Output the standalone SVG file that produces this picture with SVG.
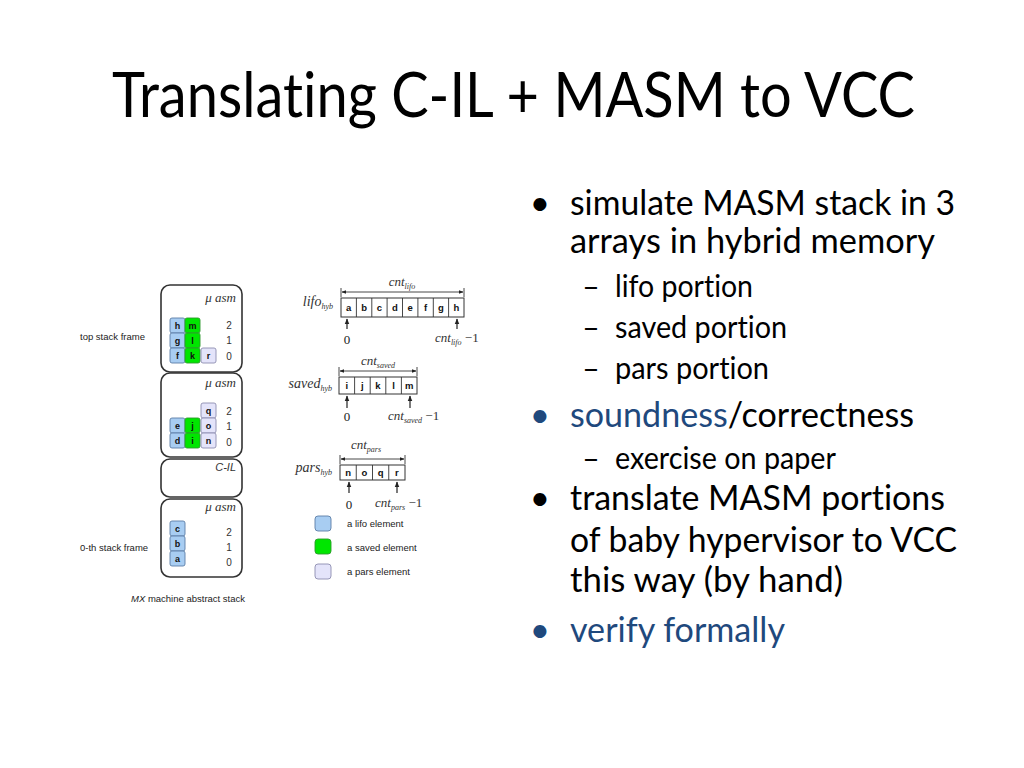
<svg xmlns="http://www.w3.org/2000/svg" width="1024" height="768" viewBox="0 0 1024 768">
<defs>
<marker id="ah" viewBox="0 0 10 10" refX="9" refY="5" markerWidth="5" markerHeight="5" orient="auto-start-reverse"><path d="M0,1 L10,5 L0,9 Z" fill="#222"/></marker>
<style>
text{font-variant-ligatures:none}
.title{font-family:Lato,"Open Sans",sans-serif;font-size:62px;fill:#000}
.main{font-family:Lato,"Open Sans",sans-serif;font-size:35px;fill:#000}
.sub{font-family:Lato,"Open Sans",sans-serif;font-size:30px;fill:#000}
.blue{fill:#1F497D}
.frame{fill:#fff;stroke:#333;stroke-width:1.6}
.lifo{fill:#a8cdf2;stroke:#5b7ea6;stroke-width:0.9}
.saved{fill:#00e600;stroke:#2c9a2c;stroke-width:0.9}
.pars{fill:#e4e4fa;stroke:#8d8db0;stroke-width:0.9}
.cell{font-family:"Liberation Sans",Arial,sans-serif;font-size:9px;font-weight:bold;fill:#111;text-anchor:middle}
.num{font-family:"Liberation Sans",Arial,sans-serif;font-size:10px;fill:#333;text-anchor:middle}
.lbl{font-family:"Liberation Sans",Arial,sans-serif;font-size:9.5px;fill:#222}
.ser{font-family:"Liberation Serif","Times New Roman",serif;font-style:italic;fill:#333}
.zero{font-family:"Liberation Serif","Times New Roman",serif;font-size:13px;fill:#222}
.arr{fill:#fff;stroke:#333;stroke-width:1}
.ac{font-family:"Liberation Sans",Arial,sans-serif;font-size:9.5px;font-weight:bold;fill:#111;text-anchor:middle}
.dim{stroke:#333;stroke-width:0.9;fill:none}
.up{stroke:#222;stroke-width:1.2;fill:none}
</style>
</defs>
<rect width="1024" height="768" fill="#fff"/>

<text class="title" x="112" y="117" textLength="803" lengthAdjust="spacingAndGlyphs">Translating C-IL + MASM to VCC</text>

<g id="bullets">
<text class="main" x="540" y="215" text-anchor="middle">•</text>
<text class="main" x="570" y="215" textLength="385" lengthAdjust="spacingAndGlyphs">simulate MASM stack in 3</text>
<text class="main" x="570" y="253" textLength="365" lengthAdjust="spacingAndGlyphs">arrays in hybrid memory</text>
<text class="sub" x="591" y="297" text-anchor="middle">–</text>
<text class="sub" x="615" y="297" textLength="138" lengthAdjust="spacingAndGlyphs">lifo portion</text>
<text class="sub" x="591" y="338" text-anchor="middle">–</text>
<text class="sub" x="615" y="338" textLength="172" lengthAdjust="spacingAndGlyphs">saved portion</text>
<text class="sub" x="591" y="379" text-anchor="middle">–</text>
<text class="sub" x="615" y="379" textLength="154" lengthAdjust="spacingAndGlyphs">pars portion</text>
<text class="main blue" x="540" y="427" text-anchor="middle">•</text>
<text class="main" x="570" y="427" textLength="344" lengthAdjust="spacingAndGlyphs"><tspan class="blue">soundness</tspan>/correctness</text>
<text class="sub" x="591" y="469" text-anchor="middle">–</text>
<text class="sub" x="615" y="469" textLength="221" lengthAdjust="spacingAndGlyphs">exercise on paper</text>
<text class="main" x="540" y="510" text-anchor="middle">•</text>
<text class="main" x="570" y="510" textLength="375" lengthAdjust="spacingAndGlyphs">translate MASM portions</text>
<text class="main" x="570" y="552" textLength="387" lengthAdjust="spacingAndGlyphs">of baby hypervisor to VCC</text>
<text class="main" x="570" y="592" textLength="273" lengthAdjust="spacingAndGlyphs">this way (by hand)</text>
<text class="main blue" x="540" y="642" text-anchor="middle">•</text>
<text class="main blue" x="570" y="642" textLength="215" lengthAdjust="spacingAndGlyphs">verify formally</text>
</g>

<g id="frame-top">
<rect class="frame" x="161" y="285" width="81" height="87" rx="9"/>
<text class="ser" x="236" y="302" text-anchor="end" font-size="13">μ asm</text>
<rect class="lifo" x="170" y="318" width="15" height="15" rx="2"/><text class="cell" x="177.5" y="329">h</text>
<rect class="saved" x="185" y="318" width="15" height="15" rx="2"/><text class="cell" x="192.5" y="329">m</text>
<rect class="lifo" x="170" y="333" width="15" height="15" rx="2"/><text class="cell" x="177.5" y="344">g</text>
<rect class="saved" x="185" y="333" width="15" height="15" rx="2"/><text class="cell" x="192.5" y="344">l</text>
<rect class="lifo" x="170" y="348" width="15" height="15" rx="2"/><text class="cell" x="177.5" y="359">f</text>
<rect class="saved" x="185" y="348" width="15" height="15" rx="2"/><text class="cell" x="192.5" y="359">k</text>
<rect class="pars" x="201" y="348" width="15" height="15" rx="2"/><text class="cell" x="208.5" y="359">r</text>
<text class="num" x="229" y="329">2</text><text class="num" x="229" y="344">1</text><text class="num" x="229" y="360">0</text>
</g>

<g id="frame-second">
<rect class="frame" x="161" y="373" width="81" height="84" rx="9"/>
<text class="ser" x="236" y="387" text-anchor="end" font-size="13">μ asm</text>
<rect class="pars" x="201" y="403" width="15" height="15" rx="2"/><text class="cell" x="208.5" y="414">q</text>
<rect class="lifo" x="170" y="418" width="15" height="15" rx="2"/><text class="cell" x="177.5" y="429">e</text>
<rect class="saved" x="185" y="418" width="15" height="15" rx="2"/><text class="cell" x="192.5" y="429">j</text>
<rect class="pars" x="201" y="418" width="15" height="15" rx="2"/><text class="cell" x="208.5" y="429">o</text>
<rect class="lifo" x="170" y="433" width="15" height="15" rx="2"/><text class="cell" x="177.5" y="444">d</text>
<rect class="saved" x="185" y="433" width="15" height="15" rx="2"/><text class="cell" x="192.5" y="444">i</text>
<rect class="pars" x="201" y="433" width="15" height="15" rx="2"/><text class="cell" x="208.5" y="444">n</text>
<text class="num" x="229" y="415">2</text><text class="num" x="229" y="430">1</text><text class="num" x="229" y="446">0</text>
</g>

<g id="frame-cil">
<rect class="frame" x="161" y="459" width="81" height="38" rx="9"/>
<text x="236" y="471" text-anchor="end" font-family="Liberation Sans, Arial, sans-serif" font-style="italic" font-size="11" fill="#333">C-IL</text>
</g>

<g id="frame-bottom">
<rect class="frame" x="161" y="499" width="81" height="78" rx="9"/>
<text class="ser" x="236" y="511" text-anchor="end" font-size="13">μ asm</text>
<rect class="lifo" x="170" y="521" width="15" height="15" rx="2"/><text class="cell" x="177.5" y="532">c</text>
<rect class="lifo" x="170" y="536" width="15" height="15" rx="2"/><text class="cell" x="177.5" y="547">b</text>
<rect class="lifo" x="170" y="551" width="15" height="15" rx="2"/><text class="cell" x="177.5" y="562">a</text>
<text class="num" x="229" y="536">2</text><text class="num" x="229" y="551">1</text><text class="num" x="229" y="566">0</text>
</g>

<g id="stack-labels">
<text class="lbl" x="80" y="340">top stack frame</text>
<text class="lbl" x="80" y="551">0-th stack frame</text>
<text class="lbl" x="131" y="602"><tspan font-style="italic">MX</tspan> machine abstract stack</text>
</g>

<g id="legend">
<rect class="lifo" x="315" y="516" width="16" height="15" rx="3"/><text class="lbl" x="347" y="527">a lifo element</text>
<rect class="saved" x="315" y="539" width="16" height="15" rx="3"/><text class="lbl" x="347" y="551">a saved element</text>
<rect class="pars" x="315" y="564" width="16" height="15" rx="3"/><text class="lbl" x="347" y="575">a pars element</text>
</g>

<g id="array-lifo">
<text class="ser" x="333" y="306" text-anchor="end" font-size="14">lifo<tspan font-size="8" dy="3">hyb</tspan></text>
<text class="ser" x="402" y="286" text-anchor="middle" font-size="13">cnt<tspan font-size="8" dy="3">lifo</tspan></text>
<rect class="arr" x="341" y="298" width="123" height="19"/>
<path class="dim" d="M356.4,298V317M371.8,298V317M387.1,298V317M402.5,298V317M417.9,298V317M433.3,298V317M448.6,298V317"/>
<text class="ac" x="348.7" y="311">a</text><text class="ac" x="364.1" y="311">b</text><text class="ac" x="379.4" y="311">c</text><text class="ac" x="394.8" y="311">d</text><text class="ac" x="410.2" y="311">e</text><text class="ac" x="425.6" y="311">f</text><text class="ac" x="440.9" y="311">g</text><text class="ac" x="456.3" y="311">h</text>
</g>

<g id="array-saved">
<text class="ser" x="332" y="388" text-anchor="end" font-size="14">saved<tspan font-size="8" dy="3">hyb</tspan></text>
<text class="ser" x="378" y="365" text-anchor="middle" font-size="13">cnt<tspan font-size="8" dy="3">saved</tspan></text>
<rect class="arr" x="339" y="377" width="78" height="17"/>
<path class="dim" d="M354.6,377V394M370.2,377V394M385.8,377V394M401.4,377V394"/>
<text class="ac" x="346.8" y="389">i</text><text class="ac" x="362.4" y="389">j</text><text class="ac" x="378" y="389">k</text><text class="ac" x="393.6" y="389">l</text><text class="ac" x="409.2" y="389">m</text>
</g>

<g id="array-pars">
<text class="ser" x="332" y="472" text-anchor="end" font-size="14">pars<tspan font-size="8" dy="3">hyb</tspan></text>
<text class="ser" x="366" y="449" text-anchor="middle" font-size="13">cnt<tspan font-size="8" dy="3">pars</tspan></text>
<rect class="arr" x="340" y="465" width="65" height="15"/>
<path class="dim" d="M356.25,465V480M372.5,465V480M388.75,465V480"/>
<text class="ac" x="348.1" y="476">n</text><text class="ac" x="364.4" y="476">o</text><text class="ac" x="380.6" y="476">q</text><text class="ac" x="396.9" y="476">r</text>
</g>

<g id="connectors">
<path class="dim" d="M342,292H463" marker-start="url(#ah)" marker-end="url(#ah)"/>
<path class="dim" d="M341,288V297M464,288V297"/>
<path class="dim" d="M340,371H416" marker-start="url(#ah)" marker-end="url(#ah)"/>
<path class="dim" d="M339,367V376M417,367V376"/>
<path class="dim" d="M341,459H404" marker-start="url(#ah)" marker-end="url(#ah)"/>
<path class="dim" d="M340,455V464M405,455V464"/>
<path class="up" d="M347,329V319" marker-end="url(#ah)"/>
<path class="up" d="M457,329V319" marker-end="url(#ah)"/>
<path class="up" d="M347,408V396" marker-end="url(#ah)"/>
<path class="up" d="M410,408V396" marker-end="url(#ah)"/>
<path class="up" d="M349,493V482" marker-end="url(#ah)"/>
<path class="up" d="M397,493V482" marker-end="url(#ah)"/>
</g>

<g id="index-labels">
<text class="zero" x="347" y="344" text-anchor="middle">0</text>
<text class="ser" x="435" y="342" font-size="13">cnt<tspan font-size="8" dy="3">lifo</tspan><tspan font-style="normal" dy="-3"> −1</tspan></text>
<text class="zero" x="347" y="421" text-anchor="middle">0</text>
<text class="ser" x="388" y="420" font-size="13">cnt<tspan font-size="8" dy="3">saved</tspan><tspan font-style="normal" dy="-3"> −1</tspan></text>
<text class="zero" x="349" y="509" text-anchor="middle">0</text>
<text class="ser" x="375" y="507" font-size="13">cnt<tspan font-size="8" dy="3">pars</tspan><tspan font-style="normal" dy="-3"> −1</tspan></text>
</g>
</svg>
